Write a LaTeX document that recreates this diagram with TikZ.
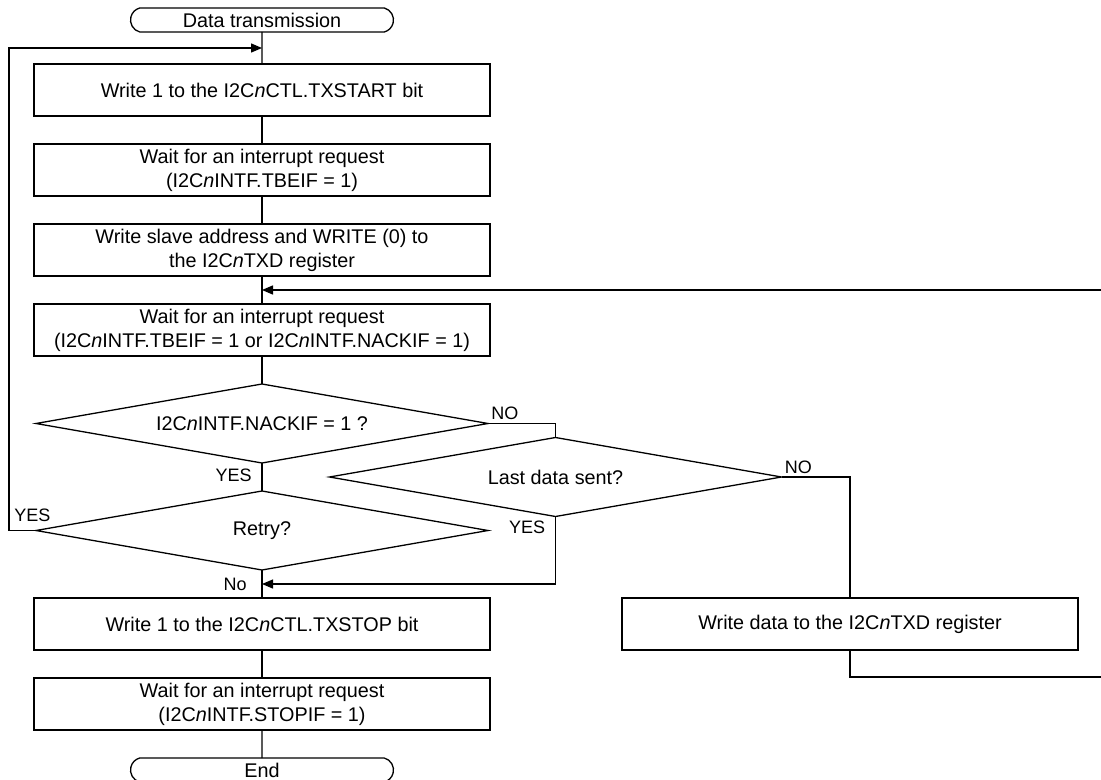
\documentclass[tikz,border=0pt]{standalone}
\usepackage{fontspec}
\setmainfont{Liberation Sans}
\usepackage{tikz}
\usetikzlibrary{arrows.meta,positioning,shapes.geometric,shapes.misc}
\tikzset{
  pbox/.style={draw=black, line width=0.65pt, align=center, font=\fontsize{9.9}{12}\selectfont, inner xsep=3pt, inner ysep=1.5pt, outer sep=0pt, minimum height=26pt, minimum width=228pt},
  tbox/.style={draw=black, line width=0.65pt, rounded rectangle, rounded rectangle arc length=150, font=\fontsize{9.9}{12}\selectfont, inner sep=1pt, outer sep=0pt, minimum height=12pt, minimum width=133.5pt},
  dbox/.style={draw=black, line width=0.65pt, diamond, aspect=5.7, font=\fontsize{9.9}{12}\selectfont, inner sep=0pt, outer sep=0pt, minimum width=226pt, minimum height=39.5pt},
  farr/.style={-{Triangle[length=5.5pt,width=4.5pt]}, line width=0.65pt},
  fline/.style={line width=0.65pt},
  lbl/.style={font=\fontsize{9}{10}\selectfont, inner sep=1.5pt}
}

\begin{document}
\begin{tikzpicture}[node distance=14pt]
\useasboundingbox (0,0) rectangle (550.5pt,-390pt);
\node[tbox] (start) at (131pt,-10pt) {Data transmission};
\node[pbox, below=16pt of start] (b1) {Write 1 to the I2C\textit{n}CTL.TXSTART bit};
\node[pbox, below=of b1] (b2) {Wait for an interrupt request\\(I2C\textit{n}INTF.TBEIF = 1)};
\node[pbox, below=of b2] (b3) {Write slave address and WRITE (0) to\\the I2C\textit{n}TXD register};
\node[pbox, below=of b3] (b4) {Wait for an interrupt request\\(I2C\textit{n}INTF.TBEIF = 1 or I2C\textit{n}INTF.NACKIF = 1)};
\node[dbox, below=of b4] (d1) {I2C\textit{n}INTF.NACKIF = 1 ?};
\node[dbox, below=of d1] (d3) {Retry?};
\node[pbox, below=of d3] (s1) {Write 1 to the I2C\textit{n}CTL.TXSTOP bit};
\node[pbox, below=of s1] (s2) {Wait for an interrupt request\\(I2C\textit{n}INTF.STOPIF = 1)};
\node[tbox, below=of s2] (end) {End};
\node[dbox] (d2) at ([shift={(33.75pt,-26.75pt)}]d1.east) {Last data sent?};
\node[pbox, right=66pt of s1] (w5) {Write data to the I2C\textit{n}TXD register};

\coordinate (j1) at ([yshift=-8pt]start.south);
\coordinate (j2) at ([yshift=-7pt]b3.south);
\coordinate (j3) at ([yshift=-7pt]d3.south);
\coordinate (rt) at (551pt,0);

% main column
\draw[fline] (start) -- (b1);
\draw[fline] (b1) -- (b2);
\draw[fline] (b2) -- (b3);
\draw[fline] (b3) -- (b4);
\draw[fline] (b4) -- (d1);
\draw[fline] (d1) -- (d3);
\draw[fline] (d3) -- (s1);
\draw[fline] (s1) -- (s2);
\draw[fline] (s2) -- (end);

% branches
\draw[fline] (d1.east) -| (d2.north);
\draw[fline] (d2.east) -| (w5.north);
\draw[farr] (d2.south) |- (j3);
\draw[farr] (d3.west) -- ++(-13.5pt,0) coordinate (c1) |- (j1);
\draw[farr] (w5.south) -- ++(0,-13.5pt) -| (j2 -| rt) -- (j2);

% labels
\node[lbl, anchor=south west] at (d1.east) {NO};
\node[lbl, anchor=south west] at (d2.east) {NO};
\node[lbl, anchor=north east] at ([shift={(-3.5pt,-1.5pt)}]d1.south) {YES};
\node[lbl, anchor=north east] at ([shift={(-3.5pt,-0.5pt)}]d2.south) {YES};
\node[lbl, anchor=south west] at ([shift={(1pt,2.5pt)}]c1) {YES};
\node[lbl, anchor=east] at ([xshift=-6pt]j3) {No};
\end{tikzpicture}
\end{document}
